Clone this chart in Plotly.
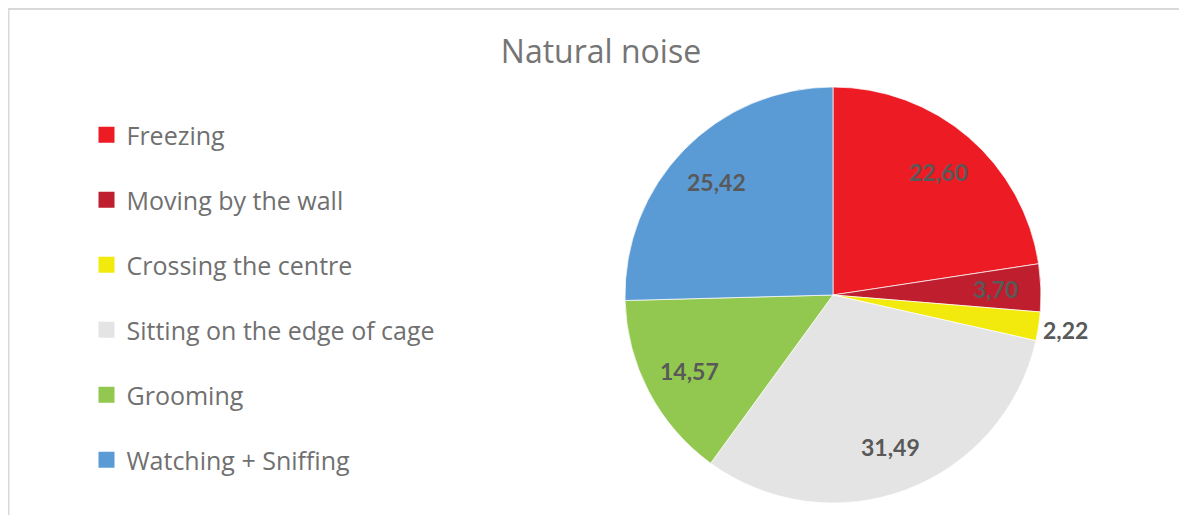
import math
import plotly.graph_objects as go

# ---- data ----
categories = ["Freezing", "Moving by the wall", "Crossing the centre",
              "Sitting on the edge of cage", "Grooming", "Watching + Sniffing"]
values = [22.60, 3.70, 2.22, 31.49, 14.57, 25.42]
value_labels = ["22,60", "3,70", "2,22", "31,49", "14,57", "25,42"]
colors = ["#ED1C24", "#BE1E2D", "#F2EA0C", "#E4E4E4", "#92C850", "#5B9BD5"]
label_outside = [False, False, True, False, False, False]

W, H = 1187, 515
OFF = 8  # page body margin
CX, CY, R = 833 - OFF, 295 - OFF, 208  # pie centre / radius in px

fig = go.Figure()

fig.add_trace(go.Pie(
    labels=categories, values=values, sort=False, direction="clockwise",
    rotation=0, marker=dict(colors=colors, line=dict(color="white", width=0.7)),
    textinfo="none", hoverinfo="label+value", showlegend=False,
    domain=dict(x=[(CX - R) / W, (CX + R) / W], y=[(H - CY - R) / H, (H - CY + R) / H]),
))

# legend entries (one group per category so spacing can be set)
for cat, col in zip(categories, colors):
    fig.add_trace(go.Scatter(
        x=[None], y=[None], mode="markers", name=cat, legendgroup=cat,
        marker=dict(symbol="square", size=17, color=col),
        showlegend=True, hoverinfo="skip",
    ))

# data labels positioned from slice mid-angles
total = sum(values)
cum = 0.0
for v, txt, out in zip(values, value_labels, label_outside):
    mid = (cum + v / 2) / total * 2 * math.pi
    cum += v
    rf = 1.13 if out else 0.78
    px = CX + rf * R * math.sin(mid)
    py = CY - rf * R * math.cos(mid)
    fig.add_annotation(
        x=px / W, y=1 - py / H, xref="paper", yref="paper", text=f"<b>{txt}</b>",
        showarrow=False, font=dict(family="Lato", size=23, color="#595959"),
        xanchor="center", yanchor="middle",
    )

# chart border
fig.add_shape(type="rect", xref="paper", yref="paper",
              x0=0.5 / W, x1=1.05, y0=-0.05, y1=1 - 1 / H,
              line=dict(color="#D9D9D9", width=2), layer="below")

fig.update_layout(
    width=W, height=H, margin=dict(l=0, r=0, t=0, b=0),
    paper_bgcolor="white", plot_bgcolor="white",
    title=dict(text="Natural noise", x=(601 - OFF) / W, xanchor="center",
               y=1 - (52 - OFF) / H, yanchor="middle",
               font=dict(family="Open Sans", size=32, color="#757575")),
    xaxis=dict(visible=False), yaxis=dict(visible=False),
    legend=dict(x=(89.5 - OFF - 3) / W, xanchor="left", y=1 - (118 - OFF - 6) / H, yanchor="top",
                font=dict(family="Open Sans", size=25, color="#707070"),
                tracegroupgap=29.5, bgcolor="rgba(0,0,0,0)"),
    showlegend=True,
)

fig.write_html("out.html")
